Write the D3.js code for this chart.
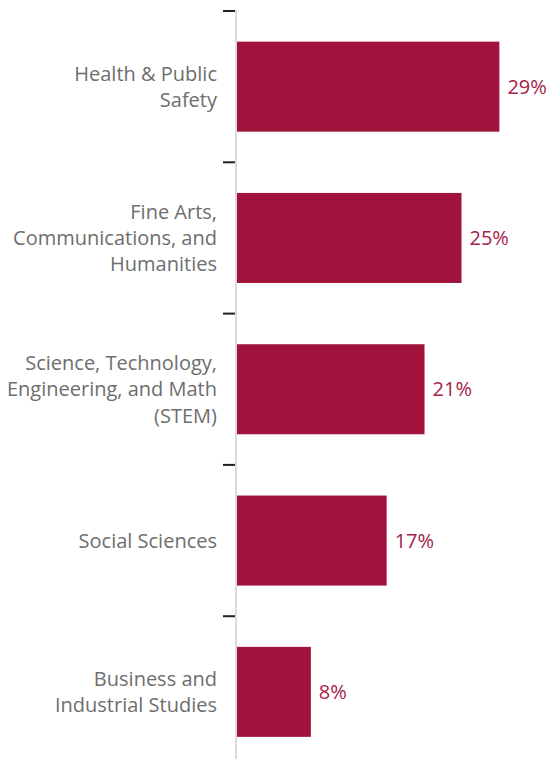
<!DOCTYPE html>
<html>
<head>
<meta charset="utf-8">
<script src="https://cdn.jsdelivr.net/npm/d3@7"></script>
<style>
  body { margin: 0; background: #fff; }
  svg text { font-family: "Open Sans", "Liberation Sans", sans-serif; }
</style>
</head>
<body>
<div class="chart"></div>
<script>
// categories, as they are split on the axis
var categories = [
  "Health & Public Safety",
  "Fine Arts, Communications, and Humanities",
  "Science, Technology, Engineering, and Math (STEM)",
  "Social Sciences",
  "Business and Industrial Studies"
];
var labelLines = [
  ["Health & Public", "Safety"],
  ["Fine Arts,", "Communications, and", "Humanities"],
  ["Science, Technology,", "Engineering, and Math", "(STEM)"],
  ["Social Sciences"],
  ["Business and", "Industrial Studies"]
];
// share of students (%)
var shares = [29.2, 25.0, 20.9, 16.7, 8.3];

var svgWidth = 553;
var svgHeight = 759;

var margin = { top: 11, left: 236 };

var svg = d3.select(".chart")
  .append("svg")
  .attr("width", svgWidth)
  .attr("height", svgHeight);

var x = d3.scaleLinear()
  .domain([0, 10])
  .range([margin.left, margin.left + 90.2]);

var y = d3.scaleBand()
  .domain(categories)
  .range([margin.top, margin.top + 5 * 151.3])
  .paddingInner(0.405)
  .paddingOuter(0.2025);

var step = y.step();
var gap = (step - y.bandwidth()) / 2;

// bars
svg.selectAll("rect.bar")
  .data(shares)
  .enter()
  .append("rect")
  .attr("class", "bar")
  .attr("x", x(0) + 1)
  .attr("y", (d, i) => y(categories[i]))
  .attr("width", d => x(d) - x(0) - 1)
  .attr("height", y.bandwidth())
  .attr("fill", "#a1133c");

// axis line
svg.append("line")
  .attr("x1", x(0)).attr("x2", x(0))
  .attr("y1", margin.top - 1).attr("y2", svgHeight + 10)
  .attr("stroke", "#cfcfcf")
  .attr("stroke-width", 1.5);

// tick marks sit between the bands
svg.selectAll("line.tick")
  .data(categories)
  .enter()
  .append("line")
  .attr("class", "tick")
  .attr("x1", x(0) - 13).attr("x2", x(0) - 1)
  .attr("y1", d => y(d) - gap)
  .attr("y2", d => y(d) - gap)
  .attr("stroke", "#222")
  .attr("stroke-width", 2);

// category labels
var lineH = 26.3;
var labels = svg.selectAll("text.cat")
  .data(categories)
  .enter()
  .append("text")
  .attr("class", "cat")
  .attr("text-anchor", "end")
  .attr("fill", "#6e6e6e")
  .style("font-size", "20px");

labels.each(function(d, i) {
  var lines = labelLines[i];
  var cy = y(d) + y.bandwidth() / 2;
  var y0 = cy - (lines.length - 1) * lineH / 2;
  d3.select(this).selectAll("tspan")
    .data(lines)
    .enter()
    .append("tspan")
    .attr("x", margin.left - 19)
    .attr("y", (t, j) => y0 + j * lineH)
    .attr("dy", "0.35em")
    .text(t => t);
});

// value labels
svg.selectAll("text.val")
  .data(shares)
  .enter()
  .append("text")
  .attr("class", "val")
  .attr("x", d => x(d) + 8)
  .attr("y", (d, i) => y(categories[i]) + y.bandwidth() / 2)
  .attr("dy", "0.35em")
  .attr("fill", "#a6224a")
  .style("font-size", "20px")
  .text(d => Math.round(d) + "%");
</script>
</body>
</html>
